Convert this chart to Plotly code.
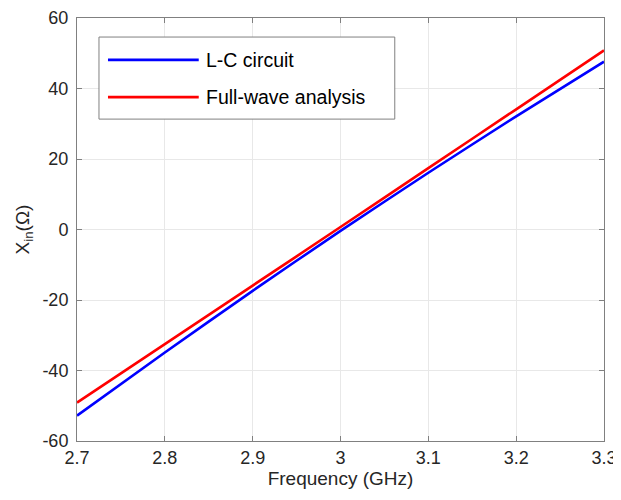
import plotly.graph_objects as go

freq_ghz = [2.7, 2.8, 2.9, 3.0, 3.1, 3.2, 3.3]
x_lc = [-52.8, -34.9, -17.4, -0.4, 16.1, 32.1, 47.6]
x_fullwave = [-49.1, -32.5, -15.9, 0.7, 17.4, 34.1, 50.8]
series_names = ["L-C circuit", "Full-wave analysis"]
series_colors = ["#0000ff", "#ff0000"]
x_ticks = [2.7, 2.8, 2.9, 3.0, 3.1, 3.2, 3.3]
x_tick_labels = ["2.7", "2.8", "2.9", "3", "3.1", "3.2", "3.3"]
y_ticks = [-60, -40, -20, 0, 20, 40, 60]
y_tick_labels = ["-60", "-40", "-20", "0", "20", "40", "60"]

FONT = "Liberation Sans, Arial, sans-serif"
TXT = "#262626"
AX = "#808080"

fig = go.Figure()
for name, vals, col in zip(series_names, [x_lc, x_fullwave], series_colors):
    fig.add_trace(go.Scatter(x=freq_ghz, y=vals, mode="lines", name=name,
                             line=dict(color=col, width=2.6, shape="spline", smoothing=0.6),
                             showlegend=False))

# custom MATLAB-style legend
fig.add_shape(type="rect", xref="paper", yref="paper", x0=0.0417, x1=0.603, y0=0.761, y1=0.955,
              line=dict(color=AX, width=1), fillcolor="white", layer="above")
rows = [0.901, 0.813]
for name, col, yy in zip(series_names, series_colors, rows):
    fig.add_shape(type="line", xref="paper", yref="paper", x0=0.0588, x1=0.231, y0=yy, y1=yy,
                  line=dict(color=col, width=2.6), layer="above")
    fig.add_annotation(xref="paper", yref="paper", x=0.241, y=yy, text=name, showarrow=False,
                       xanchor="left", yanchor="middle", font=dict(family=FONT, size=19.5, color="#000000"))

axis_common = dict(showline=True, linecolor=AX, linewidth=1, mirror="ticks", ticks="inside",
                   ticklen=5, tickcolor=AX, showgrid=True, gridcolor="#e8e8e8", gridwidth=1,
                   zeroline=False, automargin=False, tickfont=dict(family=FONT, size=18, color=TXT))

# margins compensate for the 8px page offset of the html body
fig.update_layout(
    width=621, height=500,
    margin=dict(l=69, r=25, t=10, b=67),
    paper_bgcolor="white", plot_bgcolor="white",
    font=dict(family=FONT, color=TXT),
    xaxis=dict(range=[2.7, 3.3], tickvals=x_ticks, ticktext=x_tick_labels,
               title=dict(text="Frequency (GHz)", font=dict(family=FONT, size=19, color=TXT), standoff=2),
               **axis_common),
    yaxis=dict(range=[-60, 60], tickvals=y_ticks, ticktext=y_tick_labels, ticklabelstandoff=4,
               title=dict(text="X<sub>in</sub>(Ω)", font=dict(family=FONT, size=19, color=TXT), standoff=7),
               **axis_common),
)

fig.write_html("out.html")
